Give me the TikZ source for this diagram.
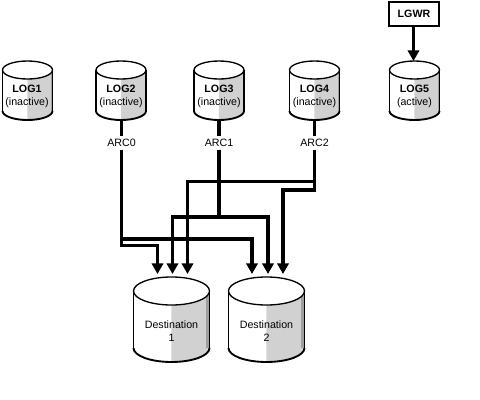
\documentclass[tikz,border=0pt]{standalone}
\usepackage{fontspec}
\setmainfont{Liberation Sans}
\usetikzlibrary{arrows.meta}
\definecolor{shadegray}{gray}{0.82}
\definecolor{edgegray}{gray}{0.62}
\tikzset{
  px/.style={x=0.75pt,y=-0.75pt},
  outline/.style={draw=black,line width=1pt},
  bowl/.style={draw=black,line width=1.4pt},
  lab/.style={font=\fontsize{8}{9.6}\selectfont,align=center,inner sep=0.5pt},
  loglab/.style={lab},
  arclab/.style={lab,fill=white,inner ysep=2pt,inner xsep=1pt},
  flow/.style={draw=black,line width=2.3pt},
  flowtip/.style={flow,-{Triangle[length=8pt,width=8.5pt]}},
  boxnode/.style={draw=black,line width=1.5pt,minimum width=38pt,minimum height=17.5pt,inner sep=0pt,font=\fontsize{8}{9.6}\selectfont\bfseries},
}
% cx, top-ellipse centre y, rx, ry, side height, edge strip width
\newcommand{\drumshape}[6]{%
  \fill[shadegray] (#1,#2) -- (#1+#3,#2) -- (#1+#3,#2+#5) arc[start angle=0,end angle=90,x radius=#3,y radius=#4] -- cycle;
  \fill[edgegray] (#1+#3-#6,#2) rectangle (#1+#3,#2+#5);
  \draw[outline] (#1-#3,#2) -- (#1-#3,#2+#5);
  \draw[outline] (#1+#3,#2) -- (#1+#3,#2+#5);
  \draw[bowl] (#1-#3,#2+#5) arc[start angle=180,end angle=360,x radius=#3,y radius=-#4];
  \draw[outline,fill=white] (#1,#2) ellipse[x radius=#3,y radius=#4];
}
\begin{document}
\begin{tikzpicture}[px]
\useasboundingbox (0,0) rectangle (480,400);
\fill[white] (0,0) rectangle (480,400);

\drumshape{27.5}{70}{25}{9}{41}{1}
\drumshape{121}{70}{25}{9}{41}{1}
\drumshape{219}{70}{25}{9}{41}{1}
\drumshape{314.5}{70}{25}{9}{41}{1}
\drumshape{414.5}{70}{25}{9}{41}{1}
\drumshape{171.5}{291}{38}{14}{57}{3}
\drumshape{266.5}{291}{38}{14}{57}{3}

\node[loglab] (log1) at (27,96) {\textbf{LOG1}\\(inactive)};
\node[loglab] (log2) at (121,96) {\textbf{LOG2}\\(inactive)};
\node[loglab] (log3) at (219,96) {\textbf{LOG3}\\(inactive)};
\node[loglab] (log4) at (314.5,96) {\textbf{LOG4}\\(inactive)};
\node[loglab] (log5) at (414.5,96) {\textbf{LOG5}\\(active)};
\node[lab] (dest1) at (171.5,331) {Destination\\1};
\node[lab] (dest2) at (266.5,331) {Destination\\2};

\node[boxnode] (lgwr) at (414,14) {LGWR};
\coordinate (log5top) at (413.5,61);
\draw[flowtip] (lgwr.south -| log5top) -- (log5top);

\coordinate (log2b) at (121.5,119);
\coordinate (log3b) at (219,119);
\coordinate (log4b) at (314.5,119);
\node[arclab] (arc0) at (121.5,143) {ARC0};
\node[arclab] (arc1) at (219,143) {ARC1};
\node[arclab] (arc2) at (314.5,143) {ARC2};
\draw[flow] (log2b) -- (arc0);
\draw[flow] (log3b) -- (arc1);
\draw[flow] (log4b) -- (arc2);

% ARC0
\coordinate (a0a) at (157.5,274);
\coordinate (a0b) at (252,274);
\draw[flowtip] (arc0) |- (157.5,245.5) -- (a0a);
\draw[flowtip] (arc0) |- (252,239) -- (a0b);
% ARC1
\coordinate (a1a) at (172.5,274);
\coordinate (a1b) at (268,274);
\draw[flowtip] (arc1) |- (172.5,217) -- (a1a);
\draw[flowtip] (arc1) |- (268,217) -- (a1b);
% ARC2
\coordinate (a2a) at (187.5,274);
\coordinate (a2b) at (283,274);
\draw[flowtip] (arc2) |- (187.5,181.5) -- (a2a);
\draw[flowtip] (arc2) |- (283,190) -- (a2b);
\end{tikzpicture}
\end{document}
